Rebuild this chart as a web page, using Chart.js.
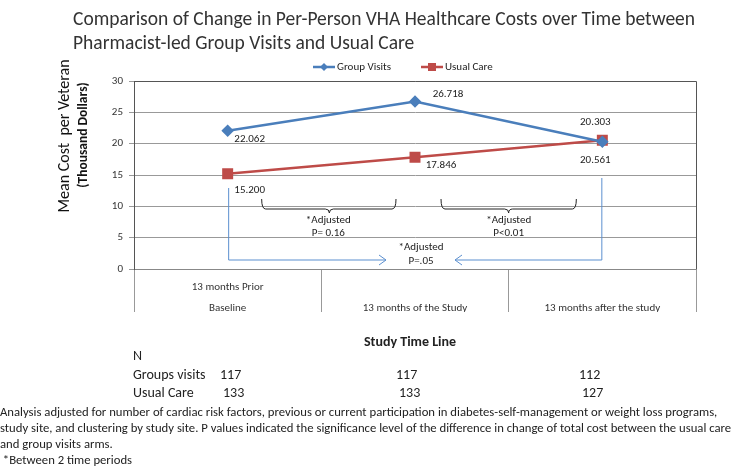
<!DOCTYPE html>
<html>
<head>
<meta charset="utf-8">
<script src="https://cdn.jsdelivr.net/npm/chart.js@4.4.0/dist/chart.umd.min.js"></script>
<style>
  body { margin: 0; background: #fff; }
  #wrap { position: relative; width: 740px; height: 466px; overflow: hidden; font-family: Carlito, 'Liberation Sans Narrow', 'Open Sans', sans-serif; color: #222; }
  canvas { position: absolute; left: 0; top: 0; }
  .txt { position: absolute; white-space: nowrap; }
  #title { left: 73px; top: 6px; font-size: 19.5px; line-height: 24px; color: #333; }
  #timeline { left: 0; width: 820px; top: 333px; text-align: center; font-weight: bold; font-size: 14px; }
  .ncell { position: absolute; font-size: 14px; }
  #notes { left: 0; top: 404px; font-size: 12.7px; line-height: 16px; }
</style>
</head>
<body>
<div id="wrap">
  <canvas id="c" width="740" height="466"></canvas>
  <div id="title" class="txt">Comparison of Change in Per-Person VHA Healthcare Costs over Time between<br>Pharmacist-led Group Visits and Usual Care</div>
  <div id="timeline" class="txt">Study Time Line</div>
  <div id="ntable"></div>
  <div id="notes" class="txt">Analysis adjusted for number of cardiac risk factors, previous or current participation in diabetes-self-management or weight loss programs,<br>study site, and clustering by study site. P values indicated the significance level of the difference in change of total cost between the usual care<br>and group visits arms.<br>&nbsp;*Between 2 time periods</div>
</div>
<script>
// data
const categories = [['13 months Prior', 'Baseline'], ['', '13 months of the Study'], ['', '13 months after the study']];
const groupVisits = [22.062, 26.718, 20.303];
const usualCare = [15.200, 17.846, 20.561];
const nGroupVisits = [117, 117, 112];
const nUsualCare = [133, 133, 127];
const yMin = 0, yMax = 30, yStep = 5;

const blue = '#4A7EBB';
const red = '#BE4B48';
const fontFam = "Carlito, 'Liberation Sans Narrow', 'Open Sans', sans-serif";

// N table below the chart
const ntable = document.getElementById('ntable');
function addCell(text, x, y) {
  const d = document.createElement('div');
  d.className = 'ncell txt';
  d.style.left = x + 'px';
  d.style.top = y + 'px';
  d.textContent = text;
  ntable.appendChild(d);
}
addCell('N', 133, 347);
addCell('Groups visits', 133, 366);
addCell('Usual Care', 133, 384);
const nCols = [220, 396, 579];
nGroupVisits.forEach((v, i) => addCell(String(v), nCols[i], 366));
nUsualCare.forEach((v, i) => addCell(String(v), nCols[i] + 3, 384));

// extra drawing: y title, legend, value labels, brackets, arrows, plot border
const extras = {
  id: 'extras',
  afterDraw(chart) {
    const ctx = chart.ctx;
    const a = chart.chartArea;
    const xs = chart.scales.x;
    ctx.save();

    // plot frame
    ctx.strokeStyle = '#555';
    ctx.lineWidth = 1;
    ctx.beginPath();
    ctx.moveTo(a.left + 0.5, a.bottom);
    ctx.lineTo(a.left + 0.5, a.top + 0.5);
    ctx.lineTo(a.right + 0.5, a.top + 0.5);
    ctx.lineTo(a.right + 0.5, a.bottom);
    ctx.stroke();

    // y axis title
    ctx.fillStyle = '#111';
    ctx.textAlign = 'center';
    ctx.textBaseline = 'middle';
    ctx.save();
    ctx.translate(65, 136);
    ctx.rotate(-Math.PI / 2);
    ctx.font = '16px ' + fontFam;
    ctx.fillText('Mean Cost  per Veteran', 0, 0);
    ctx.restore();
    ctx.save();
    ctx.translate(84, 135);
    ctx.rotate(-Math.PI / 2);
    ctx.font = 'bold 13.5px ' + fontFam;
    ctx.fillText('(Thousand Dollars)', 0, 0);
    ctx.restore();

    // legend
    ctx.lineWidth = 2.5;
    ctx.strokeStyle = blue;
    ctx.beginPath(); ctx.moveTo(313, 67); ctx.lineTo(335, 67); ctx.stroke();
    ctx.fillStyle = blue;
    ctx.beginPath(); ctx.moveTo(324, 63); ctx.lineTo(328, 67); ctx.lineTo(324, 71); ctx.lineTo(320, 67); ctx.closePath(); ctx.fill();
    ctx.strokeStyle = red;
    ctx.beginPath(); ctx.moveTo(421, 67); ctx.lineTo(443, 67); ctx.stroke();
    ctx.fillStyle = red;
    ctx.fillRect(428, 63, 8, 8);
    ctx.fillStyle = '#222';
    ctx.font = '11px ' + fontFam;
    ctx.textAlign = 'left';
    ctx.fillText('Group Visits', 337, 67);
    ctx.fillText('Usual Care', 445, 67);

    // value labels
    const gv = chart.getDatasetMeta(0).data;
    const uc = chart.getDatasetMeta(1).data;
    const lblOff = [
      [[22, 9], [33, -7], [-7, -20]],
      [[22, 17], [26, 8], [-7, 20]]
    ];
    ctx.textAlign = 'center';
    ctx.font = '11px ' + fontFam;
    ctx.fillStyle = '#222';
    groupVisits.forEach((v, i) => {
      ctx.fillText(v.toFixed(3), gv[i].x + lblOff[0][i][0], gv[i].y + lblOff[0][i][1]);
    });
    usualCare.forEach((v, i) => {
      ctx.fillText(v.toFixed(3), uc[i].x + lblOff[1][i][0], uc[i].y + lblOff[1][i][1]);
    });

    // curly brackets between time periods
    const x0 = xs.getPixelForValue(0), x1 = xs.getPixelForValue(1), x2 = xs.getPixelForValue(2);
    function bracket(l, r, mid, top, bot) {
      ctx.beginPath();
      ctx.moveTo(l, top);
      ctx.quadraticCurveTo(l, bot, l + 4, bot);
      ctx.lineTo(mid - 4, bot);
      ctx.quadraticCurveTo(mid, bot, mid, bot + 4);
      ctx.quadraticCurveTo(mid, bot, mid + 4, bot);
      ctx.lineTo(r - 4, bot);
      ctx.quadraticCurveTo(r, bot, r, top);
      ctx.stroke();
    }
    ctx.strokeStyle = '#222';
    ctx.lineWidth = 1;
    bracket(x0 + 34, x1 - 19, (x0 + x1) / 2 + 8, 199, 209);
    bracket(x1 + 26, x2 - 26, (x1 + x2) / 2, 199, 209);
    ctx.fillStyle = '#222';
    ctx.font = '11px ' + fontFam;
    ctx.fillText('*Adjusted', (x0 + x1) / 2 + 7, 220);
    ctx.fillText('P= 0.16', (x0 + x1) / 2 + 7, 233);
    ctx.fillText('*Adjusted', (x1 + x2) / 2, 220);
    ctx.fillText('P<0.01', (x1 + x2) / 2, 233);

    // blue arrows from baseline and after-study to the middle
    const ay = 260;
    ctx.strokeStyle = '#5B8FCF';
    ctx.lineWidth = 1;
    ctx.beginPath();
    ctx.moveTo(x0 + 1, 188); ctx.lineTo(x0 + 1, ay); ctx.lineTo(x1 - 29, ay);
    ctx.moveTo(x1 - 36, ay - 5); ctx.lineTo(x1 - 29, ay); ctx.lineTo(x1 - 36, ay + 5);
    ctx.moveTo(x2 - 0.5, 178); ctx.lineTo(x2 - 0.5, ay); ctx.lineTo(x1 + 40, ay);
    ctx.moveTo(x1 + 47, ay - 5); ctx.lineTo(x1 + 40, ay); ctx.lineTo(x1 + 47, ay + 5);
    ctx.stroke();
    ctx.fillText('*Adjusted', x1 + 6, 247);
    ctx.fillText('P=.05', x1 + 6, 261);

    ctx.restore();
  }
};

new Chart(document.getElementById('c'), {
  type: 'line',
  data: {
    labels: categories,
    datasets: [
      {
        label: 'Group Visits',
        data: groupVisits,
        borderColor: blue,
        backgroundColor: blue,
        borderWidth: 2.5,
        pointStyle: 'rectRot',
        pointRadius: 4.5,
        pointHoverRadius: 4.5,
        tension: 0
      },
      {
        label: 'Usual Care',
        data: usualCare,
        borderColor: red,
        backgroundColor: red,
        borderWidth: 2.5,
        pointStyle: 'rect',
        pointRadius: 6,
        pointHoverRadius: 6,
        tension: 0
      }
    ]
  },
  options: {
    responsive: false,
    animation: false,
    events: [],
    layout: { padding: { left: 0, top: 81, right: 44, bottom: 154 } },
    plugins: {
      legend: { display: false },
      title: { display: false },
      tooltip: { enabled: false }
    },
    scales: {
      x: {
        offset: true,
        afterFit(scale) { scale.height = 43; },
        border: { display: true, color: '#888' },
        grid: { offset: true, drawOnChartArea: false, tickLength: 43, color: '#999' },
        ticks: {
          padding: -35,
          color: '#333',
          font: { family: fontFam, size: 11, lineHeight: 1.9 },
          maxRotation: 0,
          autoSkip: false
        }
      },
      y: {
        min: yMin,
        max: yMax,
        afterFit(scale) { scale.width = 134; },
        border: { display: true, color: '#555' },
        grid: { color: '#999', tickLength: 5 },
        ticks: {
          stepSize: yStep,
          padding: 6,
          color: '#333',
          font: { family: fontFam, size: 11 }
        }
      }
    }
  },
  plugins: [extras]
});
</script>
</body>
</html>
